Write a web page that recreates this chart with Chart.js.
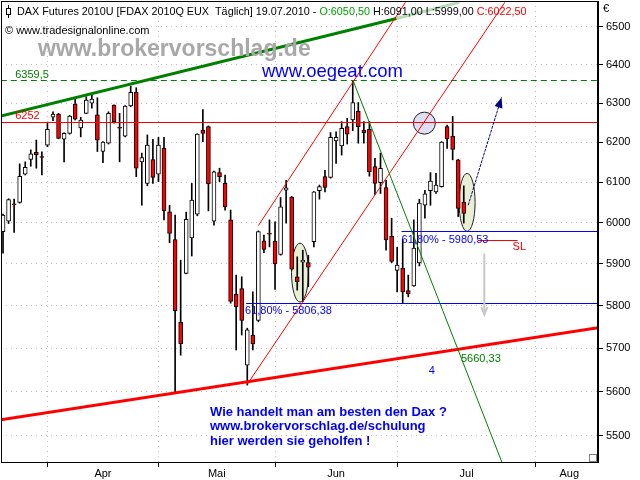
<!DOCTYPE html>
<html>
<head>
<meta charset="utf-8">
<script src="https://cdn.jsdelivr.net/npm/chart.js@4.4.1/dist/chart.umd.min.js"></script>
<style>
html, body { margin: 0; padding: 0; background: #fff; }
#wrap { width: 640px; height: 480px; position: relative; }
</style>
</head>
<body>
<div id="wrap"><canvas id="chart"></canvas></div>
<script>
// FDAX daily candles, 22.03.2010 - 19.07.2010 (index 0 = first candle)
var opens = [5978, 6004, 6046, 6050, 6120, 6157, 6175, 6163, 6193, 6264,
    6272, 6208, 6223, 6298, 6237, 6274, 6300, 6270, 6177, 6198,
    6295, 6238, 6216, 6293, 6328, 6151, 6097, 6157, 6120, 6185,
    6027, 5959, 5761, 5877, 5963, 6021, 6231, 6240, 6004, 6124,
    6097, 6007, 5827, 5841, 5661, 5731, 5765, 5956, 5974, 5955,
    5923, 6080, 6063, 5869, 5904, 5903, 5954, 6079, 6114, 6112,
    6204, 6191, 6240, 6257, 6280, 6231, 6233, 6139, 6099, 6087,
    5967, 5884, 5889, 5836, 5847, 5902, 6043, 6079, 6076, 6089,
    6240, 6216, 6156, 6050.5];
var highs = [6021, 6059, 6058, 6146, 6151, 6181, 6206, 6176, 6249, 6278,
    6274, 6224, 6269, 6313, 6264, 6317, 6325, 6314, 6202, 6278,
    6296, 6274, 6294, 6344, 6340, 6173, 6219, 6208, 6213, 6213,
    6043, 6019, 5909, 6026, 6097, 6222, 6284, 6242, 6128, 6135,
    6118, 6031, 5873, 5869, 5747, 5833, 5980, 5970, 6007, 6002,
    6062, 6105, 6065, 5917, 5933, 5921, 6077, 6093, 6130, 6225,
    6227, 6253, 6261, 6357, 6302, 6253, 6253, 6160, 6173, 6105,
    6011, 5940, 5959, 5873, 6007, 6058, 6080, 6124, 6122, 6202,
    6244, 6266, 6157, 6091];
var lows = [5926, 5998, 5976, 6048, 6118, 6140, 6135, 6118, 6189, 6255,
    6209, 6151, 6221, 6257, 6214, 6273, 6287, 6177, 6149, 6196,
    6249, 6151, 6214, 6291, 6114, 6043, 6091, 6097, 6101, 6007,
    5951, 5597, 5684, 5876, 5919, 6017, 6202, 6029, 5994, 6101,
    6031, 5806, 5696, 5731, 5615, 5696, 5762, 5927, 5941, 5839,
    5921, 5999, 5885, 5837, 5810, 5845, 5941, 6058, 6076, 6110,
    6147, 6168, 6196, 6230, 6198, 6198, 6115, 6070, 6072, 5933,
    5903, 5833, 5806, 5821, 5846, 5895, 6011, 6043, 6072, 6088,
    6185, 6156, 6015, 5999];
var closes = [6019, 6057, 6044, 6115, 6137, 6171, 6169, 6162, 6233, 6272,
    6210, 6223, 6267, 6259, 6257, 6308, 6311, 6206, 6201, 6274,
    6253, 6236, 6293, 6328, 6135, 6162, 6193, 6112, 6193, 6029,
    5974, 5788, 5711, 6008, 6056, 6221, 6223, 6096, 6126, 6114,
    6039, 5810, 5798, 5765, 5743, 5710, 5978, 5935, 5972, 5900,
    6039, 6086, 5887, 5857, 5909, 5892, 6076, 6089, 6087, 6213,
    6213, 6236, 6221, 6302, 6240, 6225, 6126, 6097, 6135, 5958,
    5906, 5897, 5833, 5828, 5938, 6048, 6071, 6103, 6093, 6201,
    6209, 6182, 6035, 6022.5];

var months = ["Apr", "Mai", "Jun", "Jul", "Aug"];
var monthStarts = [8, 28, 49, 71, 96];
var monthCenters = [18, 38.5, 60, 83.5, 102];
var priceTicks = [5500, 5600, 5700, 5800, 5900, 6000, 6100, 6200, 6300, 6400, 6500];

// drawings on the chart, in candle index / price units
var trendLines = [
    { from: [-0.4, 6267], to: [70.9, 6522], color: "#008000", width: 3 },
    { from: [70.9, 6522], to: [82.2, 6565], color: "#b8dcb8", width: 3 },
    { from: [-0.4, 5536], to: [107.2, 5748], color: "#ff0000", width: 3 },
    { from: [46, 5993], to: [72.5, 6565], color: "#ff0000", width: 1 },
    { from: [44, 5617], to: [90.4, 6565], color: "#ff0000", width: 1 },
    { from: [63.1, 6357], to: [89.9, 5440], color: "#008000", width: 1 }
];
var levels = [
    { price: 6359.5, from: -0.4, to: 107.2, color: "#008000", dash: [6, 4] },
    { price: 6252, from: -0.4, to: 107.2, color: "#ff0000", dash: [] },
    { price: 5980.53, from: 71.8, to: 107.2, color: "#0000ff", dash: [] },
    { price: 5806.38, from: 43.8, to: 107.2, color: "#0000ff", dash: [] },
    { price: 5958, from: 85.5, to: 92.7, color: "#ff0000", dash: [] }
];
var notes = [
    { text: "6359,5", x: 2.2, price: 6374, color: "#008000" },
    { text: "6252", x: 2.2, price: 6267, color: "#ff0000" },
    { text: "61,80% - 5980,53", x: 71.8, price: 5958, color: "#0000ff" },
    { text: "61,80% - 5806,38", x: 43.6, price: 5787, color: "#0000ff" },
    { text: "SL", x: 91.8, price: 5941, color: "#ff0000" },
    { text: "5660,33", x: 82.5, price: 5675, color: "#008000" },
    { text: "4", x: 76.7, price: 5647, color: "#0000ff" }
];
var ellipses = [
    { x: 75.9, price: 6249, rx: 11, ry: 11, fill: "#dedef4" },
    { x: 53.5, price: 5879, rx: 8.5, ry: 29.5, fill: "#e9efd3" },
    { x: 83.6, price: 6050, rx: 8, ry: 29, fill: "#e9efd3" }
];

var FONT = '"Liberation Sans", Arial, sans-serif';

function arrow(ctx, x1, y1, x2, y2, size, open) {
    var ang = Math.atan2(y2 - y1, x2 - x1);
    ctx.beginPath();
    ctx.moveTo(x1, y1);
    ctx.lineTo(x2, y2);
    ctx.stroke();
    ctx.setLineDash([]);
    ctx.beginPath();
    ctx.moveTo(x2 - size * Math.cos(ang - 0.38), y2 - size * Math.sin(ang - 0.38));
    ctx.lineTo(x2, y2);
    ctx.lineTo(x2 - size * Math.cos(ang + 0.38), y2 - size * Math.sin(ang + 0.38));
    if (open) {
        ctx.stroke();
    } else {
        ctx.closePath();
        ctx.fill();
    }
}

var drawings = {
    id: "drawings",
    beforeDatasetsDraw: function (chart) {
        var ctx = chart.ctx, a = chart.chartArea, sx = chart.scales.x, sy = chart.scales.y;
        ctx.save();
        ctx.beginPath();
        ctx.rect(a.left, a.top, a.width, a.height);
        ctx.clip();
        ellipses.forEach(function (e) {
            ctx.beginPath();
            ctx.ellipse(sx.getPixelForValue(e.x), sy.getPixelForValue(e.price), e.rx, e.ry, 0, 0, Math.PI * 2);
            ctx.fillStyle = e.fill;
            ctx.fill();
            ctx.strokeStyle = "#202020";
            ctx.lineWidth = 1;
            ctx.stroke();
        });
        ctx.restore();
    },
    afterDatasetsDraw: function (chart) {
        var ctx = chart.ctx, a = chart.chartArea, sx = chart.scales.x, sy = chart.scales.y;
        ctx.save();
        ctx.beginPath();
        ctx.rect(a.left, a.top, a.width, a.height);
        ctx.clip();

        levels.forEach(function (l) {
            var y = Math.round(sy.getPixelForValue(l.price)) + 0.5;
            ctx.beginPath();
            ctx.setLineDash(l.dash);
            ctx.strokeStyle = l.color;
            ctx.lineWidth = 1;
            ctx.moveTo(sx.getPixelForValue(l.from), y);
            ctx.lineTo(sx.getPixelForValue(l.to), y);
            ctx.stroke();
        });
        ctx.setLineDash([]);

        trendLines.forEach(function (t) {
            ctx.beginPath();
            ctx.strokeStyle = t.color;
            ctx.lineWidth = t.width;
            ctx.moveTo(sx.getPixelForValue(t.from[0]), sy.getPixelForValue(t.from[1]));
            ctx.lineTo(sx.getPixelForValue(t.to[0]), sy.getPixelForValue(t.to[1]));
            ctx.stroke();
        });

        // expected move up
        ctx.strokeStyle = "#000080";
        ctx.fillStyle = "#000080";
        ctx.lineWidth = 1;
        ctx.setLineDash([3, 1]);
        arrow(ctx, sx.getPixelForValue(83.8), sy.getPixelForValue(6043),
            sx.getPixelForValue(89.8), sy.getPixelForValue(6315), 11, false);

        // alternative move down
        ctx.strokeStyle = "#c8c8c8";
        ctx.lineWidth = 2;
        arrow(ctx, sx.getPixelForValue(86.7), sy.getPixelForValue(5925),
            sx.getPixelForValue(86.7), sy.getPixelForValue(5779), 8, true);

        ctx.font = "11px " + FONT;
        ctx.textBaseline = "middle";
        ctx.textAlign = "left";
        notes.forEach(function (n) {
            ctx.fillStyle = n.color;
            ctx.fillText(n.text, sx.getPixelForValue(n.x), sy.getPixelForValue(n.price));
        });
        ctx.restore();
    },
    afterDraw: function (chart) {
        var ctx = chart.ctx, a = chart.chartArea;
        ctx.save();
        ctx.strokeStyle = "#000";
        ctx.lineWidth = 1;
        ctx.strokeRect(a.left + 0.5, a.top + 0.5, a.width - 1, a.height);

        // candle icon and header
        ctx.beginPath();
        ctx.moveTo(8.5, 5);
        ctx.lineTo(8.5, 18);
        ctx.stroke();
        ctx.fillStyle = "#fff";
        ctx.fillRect(6.5, 8.5, 4, 6);
        ctx.strokeRect(6.5, 8.5, 4, 6);

        ctx.font = "10.8px " + FONT;
        ctx.textBaseline = "middle";
        var parts = [
            ["DAX Futures 2010U [FDAX 2010Q EUX  T\u00e4glich] 19.07.2010 - ", "#000000"],
            ["O:6050,50", "#00a000"],
            [" H:6091,00 L:5999,00 ", "#000000"],
            ["C:6022,50", "#ff0000"]
        ];
        var x = 17;
        parts.forEach(function (p) {
            ctx.fillStyle = p[1];
            ctx.fillText(p[0], x, 12);
            x += ctx.measureText(p[0]).width;
        });
        ctx.font = "11px " + FONT;
        ctx.fillStyle = "#000";
        ctx.fillText("\u00a9 www.tradesignalonline.com", 5, 31);
        ctx.fillText("\u20ac", 603, 9);

        ctx.font = "bold 23px " + FONT;
        ctx.fillStyle = "#a8a8a8";
        ctx.fillText("www.brokervorschlag.de", 38, 50);

        ctx.font = "18.5px " + FONT;
        ctx.fillStyle = "#0000ff";
        ctx.fillText("www.oegeat.com", 262, 72);

        ctx.font = "bold 13px " + FONT;
        ctx.fillText("Wie handelt man am besten den Dax ?", 210, 412);
        ctx.fillText("www.brokervorschlag.de/schulung", 210, 426.5);
        ctx.fillText("hier werden sie geholfen !", 210, 441);

        // resize grip
        ctx.strokeStyle = "#808080";
        ctx.strokeRect(a.right - 8.5, a.bottom - 7.5, 7, 7);
        ctx.restore();
    }
};

new Chart(document.getElementById("chart"), {
    type: "bar",
    data: {
        datasets: [{
            label: "body",
            data: opens.map(function (o, i) { return { x: i, y: [o, closes[i]] }; }),
            backgroundColor: opens.map(function (o, i) { return closes[i] >= o ? "#ffffff" : "#ff0000"; }),
            borderColor: "#000000",
            borderWidth: 1,
            borderSkipped: false,
            barThickness: 4,
            minBarLength: 1,
            grouped: false,
            order: 1
        }, {
            label: "wick",
            data: lows.map(function (l, i) { return { x: i, y: [l, highs[i]] }; }),
            backgroundColor: "#000000",
            borderWidth: 0,
            barThickness: 1,
            grouped: false,
            order: 2
        }]
    },
    options: {
        responsive: true,
        maintainAspectRatio: false,
        animation: false,
        events: [],
        layout: { padding: { left: 1, top: 1, right: 0, bottom: 0 } },
        plugins: {
            legend: { display: false },
            tooltip: { enabled: false }
        },
        scales: {
            x: {
                type: "linear",
                offset: false,
                min: -0.364,
                max: 107.18,
                afterBuildTicks: function (scale) {
                    scale.ticks = monthStarts.concat(monthCenters).map(function (v) { return { value: v }; });
                },
                afterFit: function (scale) {
                    scale.height = 18;
                    scale.paddingLeft = 0;
                    scale.paddingRight = 0;
                },
                ticks: {
                    autoSkip: false,
                    maxRotation: 0,
                    padding: 0,
                    color: "#000",
                    font: { family: FONT, size: 11 },
                    callback: function (value) {
                        var k = monthCenters.indexOf(value);
                        return k >= 0 ? months[k] : "";
                    }
                },
                grid: {
                    offset: false,
                    color: function (c) {
                        return c.tick && monthStarts.indexOf(c.tick.value) >= 0 ? "#c0c0c0" : "rgba(0,0,0,0)";
                    },
                    tickColor: function (c) {
                        return c.tick && monthStarts.indexOf(c.tick.value) >= 0 ? "#000" : "rgba(0,0,0,0)";
                    },
                    tickLength: 5,
                    tickBorderDash: []
                },
                border: { color: "#000", dash: [1, 4] }
            },
            y: {
                type: "logarithmic",
                position: "right",
                min: 5441.4,
                max: 6568.6,
                afterBuildTicks: function (scale) {
                    scale.ticks = priceTicks.map(function (v) { return { value: v }; });
                },
                afterFit: function (scale) {
                    scale.width = 42;
                    scale.paddingTop = 0;
                    scale.paddingBottom = 0;
                },
                ticks: {
                    autoSkip: false,
                    padding: 3,
                    color: "#000",
                    font: { family: FONT, size: 11 },
                    callback: function (value) { return String(value); }
                },
                grid: {
                    color: "#c0c0c0",
                    tickColor: "#000",
                    tickLength: 5,
                    tickBorderDash: []
                },
                border: { color: "#000", dash: [1, 4] }
            }
        }
    },
    plugins: [drawings]
});
</script>
</body>
</html>
